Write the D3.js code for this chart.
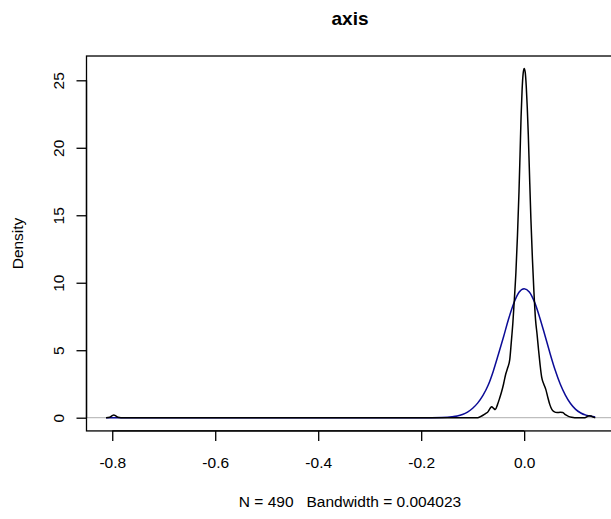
<!DOCTYPE html>
<html>
<head>
<meta charset="utf-8">
<script src="https://cdn.jsdelivr.net/npm/d3@7"></script>
<style>
  body { margin: 0; background: #fff; }
  text { font-family: "Liberation Sans", Arial, Helvetica, sans-serif; }
</style>
</head>
<body>
<div id="chart"></div>
<script>
//chart texts
let chartTitle = "axis";
let xTitle = "N = 490   Bandwidth = 0.004023";
let yTitle = "Density";

//tick values
let xTicks = [-0.8, -0.6, -0.4, -0.2, 0.0];
let xTickLabels = ["-0.8", "-0.6", "-0.4", "-0.2", "0.0"];
let yTicks = [0, 5, 10, 15, 20, 25];

//kernel density estimate (black)
let densX = [-0.812, -0.805, -0.8, -0.797, -0.794, -0.789, -0.783, -0.09, -0.085, -0.08,
  -0.075, -0.07, -0.066, -0.063, -0.06, -0.056, -0.052, -0.048, -0.044, -0.04,
  -0.036, -0.032, -0.028, -0.025, -0.022, -0.019, -0.016, -0.013, -0.01, -0.008,
  -0.006, -0.004, -0.002, 0.0, 0.002, 0.004, 0.006, 0.008, 0.01, 0.013,
  0.016, 0.019, 0.022, 0.025, 0.028, 0.031, 0.034, 0.038, 0.042, 0.046,
  0.05, 0.054, 0.058, 0.064, 0.07, 0.075, 0.08, 0.086, 0.092, 0.098,
  0.118, 0.122, 0.126, 0.13, 0.134, 0.138];
let densY = [0, 0.03, 0.15, 0.2, 0.15, 0.03, 0, 0, 0.08, 0.18,
  0.3, 0.45, 0.7, 0.82, 0.72, 0.6, 0.95, 1.4, 1.9, 2.5,
  3.2, 3.7, 4.3, 5.6, 7.0, 8.8, 10.8, 13.5, 16.8, 19.5,
  22.3, 24.3, 25.5, 25.88, 25.6, 24.6, 23.0, 21.0, 18.5, 14.8,
  11.8, 9.3, 7.3, 6.2, 5.0, 3.9, 3.0, 2.5, 2.1, 1.5,
  0.95, 0.6, 0.45, 0.38, 0.4, 0.38, 0.22, 0.1, 0.03, 0,
  0, 0.08, 0.15, 0.12, 0.04, 0];

//normal curve (blue)
let normX = [-0.812, -0.5, -0.2, -0.16, -0.14, -0.13, -0.12, -0.11, -0.1, -0.09,
  -0.08, -0.07, -0.06, -0.05, -0.04, -0.03, -0.02, -0.01, 0.0, 0.01,
  0.02, 0.03, 0.04, 0.05, 0.06, 0.07, 0.08, 0.09, 0.1, 0.11,
  0.12, 0.13, 0.138];
let normY = [0, 0, 0, 0.02, 0.07, 0.13, 0.24, 0.42, 0.7, 1.1,
  1.65, 2.4, 3.45, 4.7, 6.0, 7.35, 8.5, 9.3, 9.56, 9.32,
  8.58, 7.45, 6.15, 4.8, 3.55, 2.5, 1.68, 1.05, 0.62, 0.35,
  0.19, 0.1, 0.06];

/********************************************/
//svg size and scales
let svgWidth = 611;
let svgHeight = 519;

let xScale = d3.scaleLinear().domain([-0.85, 0.1735]).range([86.5, 613.5]);
let yScale = d3.scaleLinear().domain([0, 25]).range([417.7, 80.3]);

let plotTop = yScale(26.8);
let plotBottom = yScale(-0.98);

let svg = d3
  .select("#chart")
  .append("svg")
  .attr("width", svgWidth)
  .attr("height", svgHeight);

/********************************************/
//zero line in gray
svg
  .append("line")
  .attr("x1", xScale(-0.85))
  .attr("x2", xScale(0.1735))
  .attr("y1", yScale(0))
  .attr("y2", yScale(0))
  .attr("stroke", "#bebebe")
  .attr("stroke-width", 1.2);

//curves
let line = d3
  .line()
  .x((d) => xScale(d[0]))
  .y((d) => yScale(d[1]))
  .curve(d3.curveMonotoneX);

svg
  .append("path")
  .datum(d3.zip(normX, normY))
  .attr("d", line)
  .attr("fill", "none")
  .attr("stroke", "#0b0b96")
  .attr("stroke-width", 1.5);

svg
  .append("path")
  .datum(d3.zip(densX, densY))
  .attr("d", line)
  .attr("fill", "none")
  .attr("stroke", "#000")
  .attr("stroke-width", 1.5);

/********************************************/
//box around the plot
svg
  .append("rect")
  .attr("x", xScale(-0.85))
  .attr("y", plotTop)
  .attr("width", xScale(0.1735) - xScale(-0.85))
  .attr("height", plotBottom - plotTop)
  .attr("fill", "none")
  .attr("stroke", "#000")
  .attr("stroke-width", 1.3);

//axes
let xAxis = d3
  .axisBottom(xScale)
  .tickValues(xTicks)
  .tickFormat((d, i) => xTickLabels[i])
  .tickSize(10);
let yAxis = d3.axisLeft(yScale).tickValues(yTicks).tickSize(10);

let xAxisG = svg
  .append("g")
  .attr("transform", `translate(0, ${plotBottom})`)
  .call(xAxis);

let yAxisG = svg
  .append("g")
  .attr("transform", `translate(${xScale(-0.85)}, 0)`)
  .call(yAxis);

[xAxisG, yAxisG].forEach((g) => {
  g.selectAll(".tick line").attr("stroke", "#000").attr("stroke-width", 1.3);
  g.selectAll(".tick text")
    .attr("fill", "#000")
    .style("font-size", "15.5px")
    .style("font-family", '"Liberation Sans", Arial, sans-serif');
  g.select("path.domain").remove();
});

xAxisG
  .append("line")
  .attr("x1", xScale(-0.8))
  .attr("x2", xScale(0))
  .attr("stroke", "#000")
  .attr("stroke-width", 1.3);
xAxisG.selectAll(".tick text").attr("y", 37).attr("dy", 0);

yAxisG
  .append("line")
  .attr("y1", yScale(0))
  .attr("y2", yScale(25))
  .attr("stroke", "#000")
  .attr("stroke-width", 1.3);
yAxisG
  .selectAll(".tick text")
  .attr("x", null)
  .attr("dy", 0)
  .attr("text-anchor", "middle")
  .attr("transform", "translate(-23, 0) rotate(-90)");

/********************************************/
//titles
svg
  .append("text")
  .attr("x", (xScale(-0.85) + xScale(0.1735)) / 2)
  .attr("y", 25)
  .attr("text-anchor", "middle")
  .style("font-size", "19px")
  .style("font-weight", "bold")
  .text(chartTitle);

svg
  .append("text")
  .attr("x", (xScale(-0.85) + xScale(0.1735)) / 2)
  .attr("y", 507)
  .attr("text-anchor", "middle")
  .style("font-size", "15.5px")
  .style("white-space", "pre")
  .text(xTitle);

svg
  .append("text")
  .attr("transform", `translate(23, ${(plotTop + plotBottom) / 2}) rotate(-90)`)
  .attr("text-anchor", "middle")
  .style("font-size", "15.5px")
  .text(yTitle);
</script>
</body>
</html>
